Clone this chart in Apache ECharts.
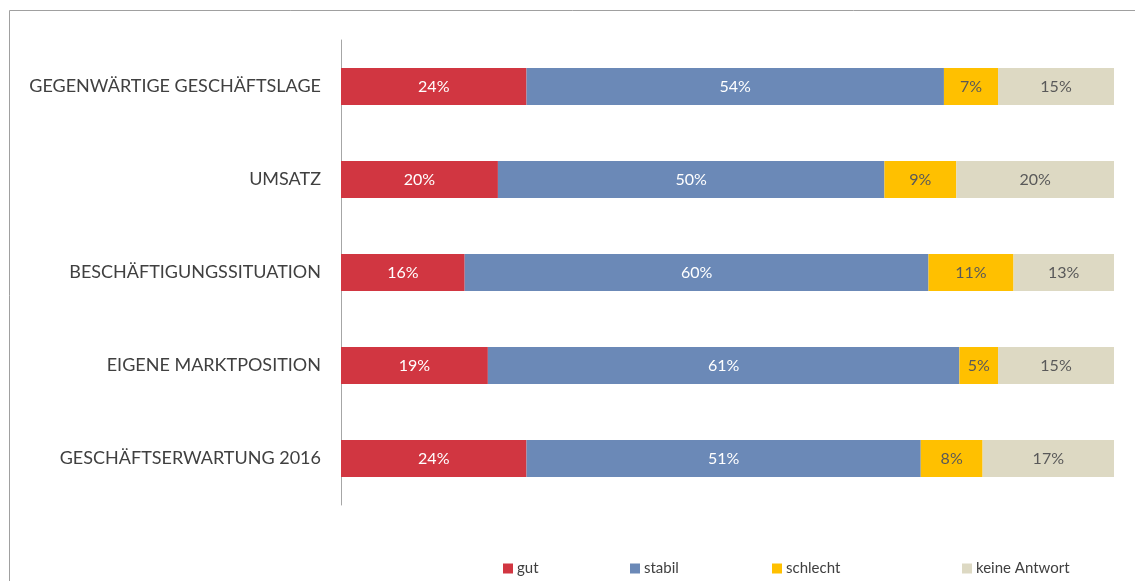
<!DOCTYPE html>
<html>
<head>
<meta charset="utf-8">
<title>Geschäftslage</title>
<script src="https://cdn.jsdelivr.net/npm/echarts@6/dist/echarts.min.js"></script>
<style>
  html, body { margin: 0; padding: 0; background: #fff; }
  #chart { width: 1135px; height: 581px; }
</style>
</head>
<body>
<div id="chart"></div>
<script>
// categories, top to bottom
var categories = [
  'GEGENWÄRTIGE GESCHÄFTSLAGE',
  'UMSATZ',
  'BESCHÄFTIGUNGSSITUATION',
  'EIGENE MARKTPOSITION',
  'GESCHÄFTSERWARTUNG 2016'
];
// shares in percent (labels are rounded)
var gut     = [24, 20.3, 16, 19, 24];
var stabil  = [54, 50.0, 60, 61, 51];
var schlecht = [7, 9.3, 11, 5, 8];
var keine   = [15, 20.4, 13, 15, 17];

var seriesNames = ['gut', 'stabil', 'schlecht', 'keine Antwort'];
var seriesData = [gut, stabil, schlecht, keine];
var colors = ['#D13641', '#6B89B7', '#FFC000', '#DDD9C3'];
var labelColors = ['#ffffff', '#ffffff', '#595959', '#595959'];
var legendLeft = [498, 625, 767, 957];

var font = 'Lato, "Open Sans", sans-serif';

var series = seriesNames.map(function (name, i) {
  return {
    name: name,
    type: 'bar',
    stack: 'total',
    barWidth: 37,
    itemStyle: { color: colors[i] },
    label: {
      show: true,
      position: 'inside',
      color: labelColors[i],
      fontFamily: font,
      fontSize: 16,
      formatter: function (p) { return Math.round(p.value) + '%'; }
    },
    data: seriesData[i]
  };
});

var legends = seriesNames.map(function (name, i) {
  return {
    data: [name],
    left: legendLeft[i],
    top: 556,
    itemWidth: 10,
    itemHeight: 10,
    itemGap: 0,
    icon: 'rect',
    textStyle: { color: '#404040', fontSize: 15, fontFamily: font, padding: [0, 0, 0, -1] }
  };
});

var option = {
  animation: false,
  color: colors,
  legend: legends,
  grid: { left: 341, right: 21, top: 40, bottom: 76 },
  xAxis: {
    type: 'value',
    min: 0,
    max: 100,
    show: false
  },
  yAxis: {
    type: 'category',
    inverse: true,
    data: categories,
    axisLine: { show: true, lineStyle: { color: '#A6A6A6', width: 1 } },
    axisTick: { show: false },
    axisLabel: {
      color: '#404040',
      fontSize: 18,
      fontFamily: font,
      margin: 20
    },
    splitLine: { show: false }
  },
  graphic: [
    {
      type: 'polyline',
      shape: { points: [[9.5, 581], [9.5, 10.5], [1135, 10.5]] },
      style: { stroke: '#A0A0A0', lineWidth: 1, fill: null }
    }
  ],
  series: series
};

var myChart = echarts.init(document.getElementById('chart'));
myChart.setOption(option);
</script>
</body>
</html>
